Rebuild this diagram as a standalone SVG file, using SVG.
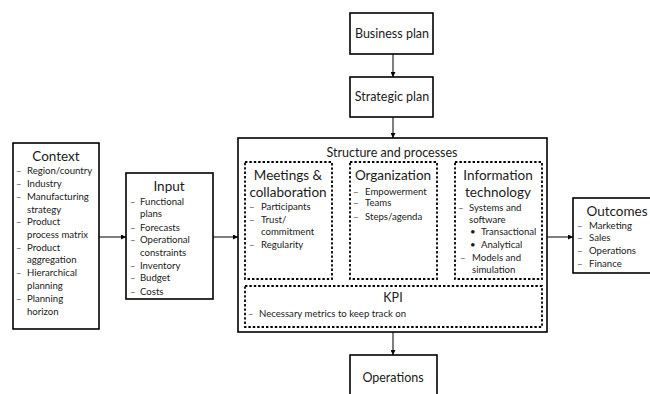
<svg xmlns="http://www.w3.org/2000/svg" width="650" height="394" viewBox="0 0 650 394">
  <defs>
    <marker id="arrow" viewBox="0 0 6 6" refX="6" refY="3" markerWidth="5" markerHeight="5" orient="auto" markerUnits="userSpaceOnUse">
      <path d="M0,0 L6,3 L0,6 Z" fill="#000"/>
    </marker>
    <style>
      text { font-family: Lato, "Open Sans", "Liberation Sans", sans-serif; fill: #1a1a1a; }
      .box { fill: #fff; stroke: #000; stroke-width: 1.6; }
      .dot { fill: none; stroke: #000; stroke-width: 1.8; stroke-dasharray: 2.4 2; }
      .title { font-size: 13.5px; text-anchor: middle; }
      .head { font-size: 12.5px; text-anchor: middle; }
      .item { font-size: 9.6px; }
      .dash { font-size: 9.6px; fill: #555; }
      .link { fill: none; stroke: #000; stroke-width: 1; marker-end: url(#arrow); }
    </style>
  </defs>
  <rect width="650" height="394" fill="#fff"/>

  <!-- connectors -->
  <g id="connectors">
    <line class="link" x1="393" y1="54" x2="393" y2="77"/>
    <line class="link" x1="393" y1="117" x2="393" y2="138"/>
    <line class="link" x1="99" y1="237" x2="126" y2="237"/>
    <line class="link" x1="213" y1="237" x2="238" y2="237"/>
    <line class="link" x1="547" y1="237" x2="573" y2="237"/>
    <line class="link" x1="393" y1="332" x2="393" y2="355"/>
  </g>

  <g id="business-plan">
    <rect class="box" x="350" y="13" width="83" height="41"/>
    <text class="head" x="392" y="38">Business plan</text>
  </g>

  <g id="strategic-plan">
    <rect class="box" x="350" y="77" width="83" height="40"/>
    <text class="head" x="392" y="101">Strategic plan</text>
  </g>

  <g id="context">
    <rect class="box" x="13" y="143" width="86" height="186"/>
    <text class="title" x="56" y="161">Context</text>
    <text class="dash" x="16" y="174">–</text><text class="item" x="27" y="174">Region/country</text>
    <text class="dash" x="16" y="187">–</text><text class="item" x="27" y="187">Industry</text>
    <text class="dash" x="16" y="200">–</text><text class="item" x="27" y="200">Manufacturing</text>
    <text class="item" x="27" y="213">strategy</text>
    <text class="dash" x="16" y="225">–</text><text class="item" x="27" y="225">Product</text>
    <text class="item" x="27" y="238">process matrix</text>
    <text class="dash" x="16" y="251">–</text><text class="item" x="27" y="251">Product</text>
    <text class="item" x="27" y="263">aggregation</text>
    <text class="dash" x="16" y="276">–</text><text class="item" x="27" y="276">Hierarchical</text>
    <text class="item" x="27" y="289">planning</text>
    <text class="dash" x="16" y="302">–</text><text class="item" x="27" y="302">Planning</text>
    <text class="item" x="27" y="315">horizon</text>
  </g>

  <g id="input">
    <rect class="box" x="126" y="173" width="87" height="126"/>
    <text class="title" x="169" y="191">Input</text>
    <text class="dash" x="130" y="205">–</text><text class="item" x="140" y="205">Functional</text>
    <text class="item" x="140" y="217">plans</text>
    <text class="dash" x="130" y="231">–</text><text class="item" x="140" y="231">Forecasts</text>
    <text class="dash" x="130" y="243">–</text><text class="item" x="140" y="243">Operational</text>
    <text class="item" x="140" y="256">constraints</text>
    <text class="dash" x="130" y="269">–</text><text class="item" x="140" y="269">Inventory</text>
    <text class="dash" x="130" y="281">–</text><text class="item" x="140" y="281">Budget</text>
    <text class="dash" x="130" y="295">–</text><text class="item" x="140" y="295">Costs</text>
  </g>

  <g id="structure-and-processes">
    <rect class="box" x="238" y="138" width="309" height="194"/>
    <text class="head" x="392" y="157">Structure and processes</text>

    <g id="meetings">
      <rect class="dot" x="245" y="162" width="87" height="117"/>
      <text class="title" x="288" y="180">Meetings &amp;</text>
      <text class="title" x="288" y="197">collaboration</text>
      <text class="dash" x="249" y="210">–</text><text class="item" x="261" y="210">Participants</text>
      <text class="dash" x="249" y="223">–</text><text class="item" x="261" y="223">Trust/</text>
      <text class="item" x="261" y="235">commitment</text>
      <text class="dash" x="249" y="248">–</text><text class="item" x="261" y="248">Regularity</text>
    </g>

    <g id="organization">
      <rect class="dot" x="350" y="162" width="87" height="117"/>
      <text class="title" x="393" y="180">Organization</text>
      <text class="dash" x="353" y="195">–</text><text class="item" x="365" y="195">Empowerment</text>
      <text class="dash" x="353" y="206">–</text><text class="item" x="365" y="206">Teams</text>
      <text class="dash" x="353" y="220">–</text><text class="item" x="365" y="220">Steps/agenda</text>
    </g>

    <g id="information-technology">
      <rect class="dot" x="455" y="162" width="87" height="117"/>
      <text class="title" x="498" y="180">Information</text>
      <text class="title" x="498" y="197">technology</text>
      <text class="dash" x="458" y="211">–</text><text class="item" x="469" y="211">Systems and</text>
      <text class="item" x="469" y="223">software</text>
      <text class="item" x="470" y="235">•</text><text class="item" x="481" y="235">Transactional</text>
      <text class="item" x="470" y="248">•</text><text class="item" x="481" y="248">Analytical</text>
      <text class="dash" x="460" y="261">–</text><text class="item" x="472" y="261">Models and</text>
      <text class="item" x="472" y="273">simulation</text>
    </g>

    <g id="kpi">
      <rect class="dot" x="245" y="286" width="297" height="41"/>
      <text class="head" x="393" y="302">KPI</text>
      <text class="dash" x="248" y="317">–</text><text class="item" x="259" y="317">Necessary metrics to keep track on</text>
    </g>
  </g>

  <g id="outcomes">
    <rect class="box" x="573" y="198" width="82" height="75"/>
    <text class="title" x="617" y="216">Outcomes</text>
    <text class="dash" x="577" y="229">–</text><text class="item" x="589" y="229">Marketing</text>
    <text class="dash" x="577" y="241">–</text><text class="item" x="589" y="241">Sales</text>
    <text class="dash" x="577" y="254">–</text><text class="item" x="589" y="254">Operations</text>
    <text class="dash" x="577" y="267">–</text><text class="item" x="589" y="267">Finance</text>
  </g>

  <g id="operations">
    <rect class="box" x="350" y="355" width="87" height="45"/>
    <text class="head" x="393" y="382">Operations</text>
  </g>
</svg>
